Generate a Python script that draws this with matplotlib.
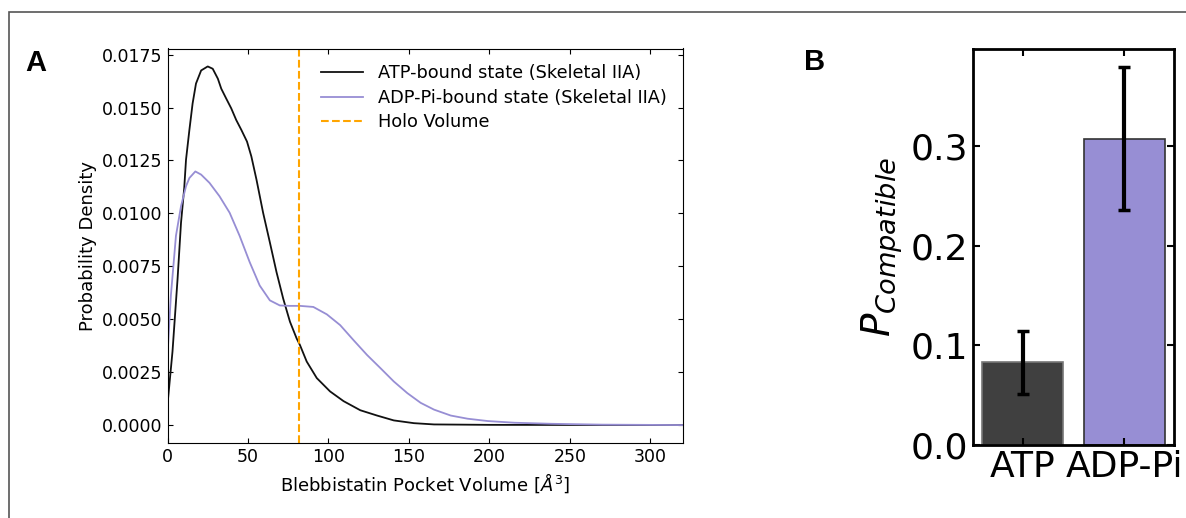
import numpy as np
import matplotlib
matplotlib.use("Agg")
import matplotlib.pyplot as plt
from matplotlib.patches import Rectangle

# ---- panel A: pocket volume densities ----
atp_x = [0, 3.1, 6.25, 8.4, 10.4, 11.5, 13.6, 15.6, 17.7, 20.9, 25, 28.1, 31.3,
         33.4, 36.5, 39.6, 42.7, 45.9, 49.4, 52.1, 55.3, 59.4, 63.6, 67.75,
         71.9, 76.1, 80.25, 82.3, 86.5, 92.75, 101, 109.4, 119.8, 130.2, 140.6,
         153.1, 165.6, 200, 320]
atp_y = [0.00097, 0.00347, 0.0069, 0.00956, 0.0112, 0.01253, 0.01394, 0.01519,
         0.01613, 0.01675, 0.01694, 0.01683, 0.01636, 0.01589, 0.01542, 0.01496,
         0.01441, 0.01394, 0.01339, 0.01269, 0.01159, 0.01003, 0.00863, 0.00722,
         0.00597, 0.00488, 0.00409, 0.00378, 0.003, 0.00222, 0.00159, 0.00113,
         0.0007, 0.00045, 0.00022, 0.00009, 0.00003, 0.00001, 0.0]

adp_x = [0, 2.1, 5.25, 8.4, 11.5, 13.6, 17.3, 20.9, 26.1, 32.3, 38.6, 44.8,
         51.1, 57.3, 63.6, 69.8, 76, 82.3, 90.6, 99, 107.3, 115.6, 124, 132.3,
         140.6, 149, 157.3, 165.6, 176, 186.5, 199, 215.6, 238.6, 270, 320]
adp_y = [0.00331, 0.00612, 0.00894, 0.01034, 0.01128, 0.01167, 0.01198,
         0.01183, 0.01144, 0.01081, 0.01003, 0.00894, 0.00769, 0.00659, 0.00589,
         0.00565, 0.00563, 0.00563, 0.00558, 0.00523, 0.00472, 0.00401, 0.00331,
         0.00269, 0.00206, 0.00151, 0.00105, 0.00073, 0.00045, 0.0003, 0.00019,
         0.00011, 0.00006, 0.00002, 0.0]

holo_volume = 81.5

# ---- panel B: compatible fraction ----
states = ["ATP", "ADP-Pi"]
p_compat = [0.083, 0.308]
p_err = [0.032, 0.0715]

purple = "#978ed4"

fig = plt.figure(figsize=(11.86, 5.18), dpi=100)

# outer frame, cut off at the right and bottom like the reference
fig.patches.append(Rectangle((8.5 / 1186, -0.1), 1.2, 1.1 - 12.5 / 518,
                             transform=fig.transFigure, fill=False,
                             edgecolor="#555555", linewidth=1.2))

axA = fig.add_axes([167.5 / 1186, 1 - 443 / 518, 515 / 1186, (443 - 48.5) / 518])
axA.plot(atp_x, atp_y, color="#111111", lw=1.3, label="ATP-bound state (Skeletal IIA)")
axA.plot(adp_x, adp_y, color=purple, lw=1.3, label="ADP-Pi-bound state (Skeletal IIA)")
axA.axvline(holo_volume, color="orange", ls="--", lw=1.5, label="Holo Volume")
axA.set_xlim(0, 320)
axA.set_yticks(np.arange(0, 0.0176, 0.0025))
axA.tick_params(direction="in", top=True, right=True, labelsize=12.5)
axA.set_xlabel(r"Blebbistatin Pocket Volume [$\AA^3$]", fontsize=13)
axA.set_ylabel("Probability Density", fontsize=13)
axA.legend(frameon=False, fontsize=12.8, loc="upper right", labelspacing=0.35,
           handlelength=2.4)

axB = fig.add_axes([973 / 1186, 1 - 445 / 518, (1174 - 973) / 1186, (445 - 48.5) / 518])
axB.bar([0, 1], p_compat, width=0.8, color=["#404040", purple],
        edgecolor=["#777777", "#333333"], linewidth=1.2,
        yerr=p_err, error_kw=dict(ecolor="black", elinewidth=3, capsize=4, capthick=2.5))
axB.set_xticks([0, 1])
axB.set_xticklabels(states)
axB.set_yticks([0.0, 0.1, 0.2, 0.3])
axB.tick_params(direction="in", top=True, right=True, labelsize=26, width=1.5, length=5)
for s in axB.spines.values():
    s.set_linewidth(2)
axB.set_ylabel(r"$P_{Compatible}$", fontsize=28)

fig.text(25 / 1186, 1 - 71 / 518, "A", fontsize=21, fontweight="bold",
         family="Liberation Sans")
fig.text(804 / 1186, 1 - 70 / 518, "B", fontsize=21, fontweight="bold",
         family="Liberation Sans")

fig.savefig("out.png", dpi=100)
